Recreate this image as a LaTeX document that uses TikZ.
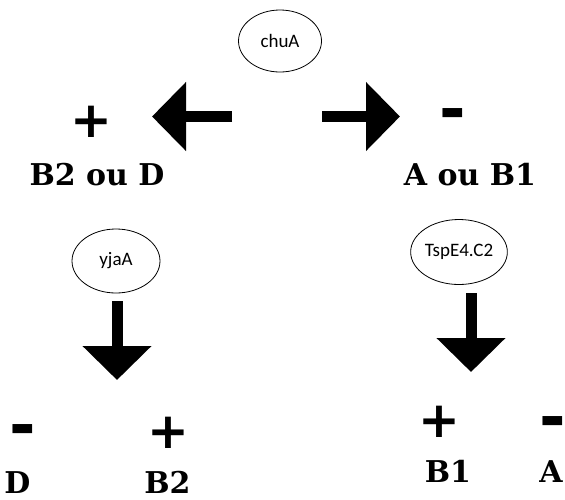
\documentclass[tikz,border=0pt]{standalone}
\usepackage{fontspec}
\usepackage{tikz}
\usetikzlibrary{arrows.meta}
\usetikzlibrary{shapes.geometric}
\usetikzlibrary{positioning}
\newfontfamily\genefont{Carlito}
\newfontfamily\slabfont{DejaVu Serif}
\newfontfamily\signfont{DejaVu Sans}
\tikzset{
  gene/.style={draw, ellipse, inner sep=0pt, line width=0.8pt, font=\genefont\fontsize{19}{19}\selectfont},
  group/.style={anchor=base, inner sep=0pt, font=\slabfont\bfseries\fontsize{30}{30}\selectfont},
  sign/.style={inner sep=0pt, font=\signfont\bfseries\fontsize{50}{50}\selectfont},
  dash sign/.style={inner sep=0pt, font=\signfont\bfseries\fontsize{64}{64}\selectfont},
  block/.style={line width=11pt, -{Triangle[width=67pt, length=34pt]}}
}

\begin{document}
\begin{tikzpicture}[x=1pt, y=-1pt]
      \useasboundingbox (0, 0) rectangle (565, 499);
      % genes
      \node [gene, minimum width=83pt, minimum height=62pt] (chua) at (280, 41) {chuA};
      \node [gene, minimum width=88pt, minimum height=64pt] (yjaa) at (116, 261) {yjaA};
      \node [gene, minimum width=76pt, minimum height=65pt] (tspe) at (459, 252) {TspE4.C2};

      % first split
      \coordinate (lstart) at (232, 116.5);
      \coordinate (ltip) at (152, 116.5);
      \coordinate (rstart) at (322, 116.5);
      \coordinate (rtip) at (400, 116.5);
      \draw [block] (lstart) -- (ltip);
      \draw [block] (rstart) -- (rtip);
      \node [sign] (plusl) at (91.5, 122) {+};
      \node [dash sign] (minusr) at (453, 120.5) {-};
      \node [group] (b2d) at (97, 185) {B2 ou D};
      \node [group] (ab1) at (470, 185) {A ou B1};

      % second split
      \coordinate (dlstart) at (117, 301);
      \coordinate (dltip) at (117, 380);
      \coordinate (drstart) at (471, 293);
      \coordinate (drtip) at (471, 372);
      \draw [block] (dlstart) -- (dltip);
      \draw [block] (drstart) -- (drtip);

      \node [dash sign] (minusd) at (23, 436) {-};
      \node [sign] (plusb2) at (168, 433) {+};
      \node [group] (d) at (17.5, 493) {D};
      \node [group] (b2) at (167.5, 493) {B2};
      \node [sign] (plusb1) at (439.5, 422) {+};
      \node [dash sign] (minusa) at (552.5, 428) {-};
      \node [group] (b1) at (448, 482) {B1};
      \node [group] (a) at (551, 482) {A};
    \end{tikzpicture}
\end{document}
